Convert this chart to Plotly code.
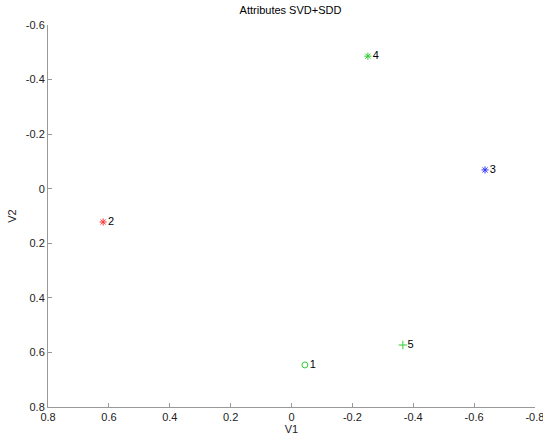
import plotly.graph_objects as go

labels = ["1", "2", "3", "4", "5"]
v1 = [-0.044, 0.619, -0.636, -0.251, -0.366]
v2 = [0.646, 0.122, -0.069, -0.486, 0.573]
colors = ["#33cc33", "#ff3333", "#3333ff", "#33cc33", "#33cc33"]
symbols = ["circle-open", "asterisk-open", "asterisk-open", "asterisk-open", "cross-thin-open"]
xticks = [0.8, 0.6, 0.4, 0.2, 0, -0.2, -0.4, -0.6, -0.8]
yticks = [-0.6, -0.4, -0.2, 0, 0.2, 0.4, 0.6, 0.8]

fig = go.Figure()
for i in range(len(labels)):
    fig.add_trace(go.Scatter(
        x=[v1[i]], y=[v2[i]], mode="markers+text", text=[labels[i]],
        textposition="middle right", textfont=dict(size=11, color="black", family="Liberation Sans"),
        marker=dict(symbol=symbols[i], size=6, color=colors[i], line=dict(width=1, color=colors[i])),
        showlegend=False, cliponaxis=False))

axis_common = dict(showgrid=False, zeroline=False, showline=True, linecolor="#999999", linewidth=1,
                   ticks="inside", ticklen=4, tickcolor="#999999", ticklabeloverflow="allow",
                   automargin=False,
                   tickfont=dict(family="Liberation Sans", size=11, color="#222222"))
fig.update_layout(
    width=543, height=438,
    margin=dict(l=48, r=8, t=25, b=31),
    plot_bgcolor="white", paper_bgcolor="white",
    title=dict(text="Attributes SVD+SDD", x=0.535, xanchor="center", y=0.977, yanchor="middle",
               font=dict(family="Liberation Sans", size=11, color="black")),
    xaxis=dict(range=[0.8002, -0.8002], tickvals=xticks, ticktext=[f"{t:g}" for t in xticks],
               title=dict(text="V1", standoff=2, font=dict(family="Liberation Sans", size=11, color="#222222")),
               **axis_common),
    yaxis=dict(range=[0.8002, -0.6002], tickvals=yticks, ticktext=[f"{t:g}" for t in yticks],
               title=dict(text="V2", standoff=6, font=dict(family="Liberation Sans", size=11, color="#222222")),
               **axis_common),
)
fig.write_html("out.html")
